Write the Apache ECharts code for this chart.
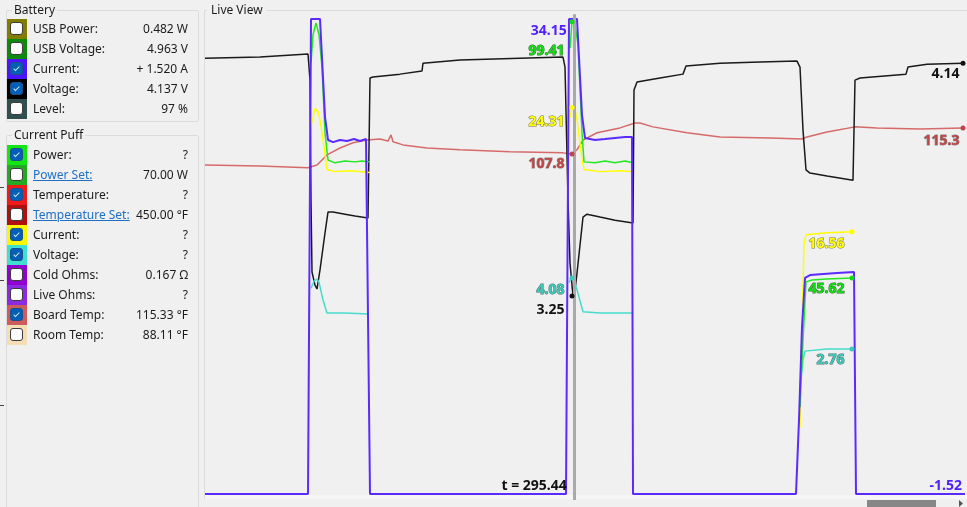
<!DOCTYPE html>
<html lang="en">
<head>
  <meta charset="UTF-8">
  <title>Live View</title>
  <script src="https://cdn.jsdelivr.net/npm/echarts@6/dist/echarts.min.js"></script>
  <style>
    html, body { margin: 0; padding: 0; background: #f0f0f0; }
    body { width: 967px; height: 507px; position: relative; overflow: hidden;
           font-family: "Segoe UI", "Noto Sans", sans-serif; font-size: 12px; color: #1b1b1b; }
    #chart { position: absolute; left: 0; top: 0; width: 967px; height: 507px; }
    .box { position: absolute; left: 6px; width: 191px; border: 1px solid #dcdcdc; border-radius: 2px; }
    .cap { position: absolute; left: 5px; top: -9px; background: #f0f0f0; padding: 0 2px; line-height: 16px; }
    .row { position: absolute; left: 0; width: 181px; height: 20px; }
    .sw { position: absolute; left: 0; top: 0; width: 20px; height: 20px; }
    .cb { position: absolute; left: 3px; top: 3px; width: 11px; height: 11px; border: 1px solid #3c3c3c;
          border-radius: 3px; background: #fbfbfb; }
    .cb.on { background: #005fb8; border-color: #1d4f8a; }
    .cb.on:after { content: ''; position: absolute; left: 4px; top: 2px; width: 2px; height: 5px;
                   border: solid #cfe3f7; border-width: 0 1px 1px 0; transform: rotate(45deg); }
    .lab { position: absolute; left: 26px; top: 0; line-height: 20px; white-space: nowrap; }
    .val { position: absolute; right: 0; top: 0; line-height: 20px; white-space: nowrap; }
    .link { color: #1f6fc5; text-decoration: underline; }
    .tick { position: absolute; left: 0; width: 4px; height: 1px; background: #444; }
  </style>
</head>
<body>
<div id="chart"></div>

<div class="box" id="battery" style="top:10px; height:110px;"><span class="cap">Battery</span></div>
<div class="box" id="puff" style="top:135px; height:380px;"><span class="cap">Current Puff</span></div>
<div class="tick" style="top:187px;"></div>
<div class="tick" style="top:280px;"></div>
<div class="tick" style="top:405px;"></div>

<script>
  // left panel readouts
  var batteryLabels = ['USB Power:', 'USB Voltage:', 'Current:', 'Voltage:', 'Level:'];
  var batteryValues = ['0.482 W', '4.963 V', '+ 1.520 A', '4.137 V', '97 %'];
  var batteryChecked = [false, false, true, true, false];
  var puffLabels = ['Power:', 'Power Set:', 'Temperature:', 'Temperature Set:', 'Current:',
                    'Voltage:', 'Cold Ohms:', 'Live Ohms:', 'Board Temp:', 'Room Temp:'];
  var puffValues = ['?', '70.00 W', '?', '450.00 °F', '?', '?', '0.167 Ω', '?', '115.33 °F', '88.11 °F'];
  var puffChecked = [true, false, true, false, true, true, false, false, true, false];

  // live view traces, [time s, value]
  var battCurrent = [
    [277.00, -1.52], [282.15, -1.52], [282.30, 34.15], [282.75, 34.15], [283.00, 26.8], [283.15, 25.06],
    [283.40, 24.9], [283.75, 25.06], [284.10, 24.98], [284.45, 25.13], [284.75, 24.98], [285.05, 25.13],
    [285.15, 25.13], [285.25, -1.52], [295.05, -1.52], [295.20, 34.15], [295.60, 34.15], [295.85, 26.93],
    [296.00, 25.21], [296.50, 25.06], [297.00, 25.13], [297.50, 25.21], [298.00, 25.28], [298.35, 25.28],
    [298.40, -1.52], [306.55, -1.52], [306.70, 4.04], [306.85, 11.02], [307.00, 14.7], [307.25, 14.92],
    [308.60, 15.07], [309.45, 15.15], [309.55, -1.52], [315.00, -1.52]
  ];
  var battVoltage = [
    [277.00, 4.159], [279.75, 4.163], [282.15, 4.175], [282.25, 4.075], [282.30, 3.617], [282.35, 3.342],
    [282.50, 3.292], [282.60, 3.277], [282.75, 3.35], [283.00, 3.491], [283.15, 3.571], [283.40, 3.571],
    [284.00, 3.563], [284.50, 3.556], [285.15, 3.548], [285.25, 4.083], [285.40, 4.087], [286.75, 4.098],
    [287.85, 4.110], [287.90, 4.14], [289.75, 4.152], [292.75, 4.159], [294.90, 4.163], [295.00, 4.125],
    [295.15, 3.617], [295.25, 3.376], [295.40, 3.25], [295.50, 3.273], [295.60, 3.338], [295.90, 3.552],
    [296.10, 3.563], [296.75, 3.552], [297.50, 3.54], [298.40, 3.529], [298.45, 4.037], [298.60, 4.068],
    [299.75, 4.083], [300.90, 4.098], [301.05, 4.129], [302.75, 4.14], [304.75, 4.144], [306.60, 4.148],
    [306.75, 4.125], [306.90, 3.884], [307.05, 3.732], [307.25, 3.72], [308.10, 3.709], [309.40, 3.693],
    [309.50, 4.075], [309.75, 4.083], [312.05, 4.098], [312.15, 4.125], [313.10, 4.136], [314.90, 4.14]
  ];
  var puffPower = [
    [282.30, 90.8], [282.40, 96.7], [282.55, 99.2], [282.70, 96.7], [282.85, 89.9], [283.00, 76.1],
    [283.15, 70.4], [283.50, 69.8], [284.00, 70.2], [284.50, 70.0], [284.85, 70.2], [285.25, 70.0],
    [285.30, '-'],
    [295.25, 93.9], [295.35, 99.41], [295.50, 98.8], [295.65, 94.6], [295.85, 76.1], [295.95, 70.0],
    [296.50, 69.8], [297.00, 70.2], [297.50, 69.8], [298.00, 70.2], [298.40, 69.8],
    [298.45, '-'],
    [306.75, 18.5], [306.90, 32.6], [307.05, 44.8], [307.35, 45.2], [308.10, 45.4], [309.35, 45.62]
  ];
  var puffCurrent = [
    [282.30, 23.1], [282.50, 24.25], [282.65, 24.06], [282.75, 23.56], [282.95, 21.87], [283.10, 20.44],
    [283.50, 20.31], [284.25, 20.37], [285.25, 20.25],
    [285.30, '-'],
    [295.25, 23.69], [295.35, 24.31], [295.50, 24.19], [295.60, 23.56], [295.85, 21.06], [295.95, 20.44],
    [296.75, 20.31], [297.75, 20.37], [298.40, 20.31],
    [298.45, '-'],
    [306.75, 4.31], [306.85, 10.44], [306.95, 15.75], [307.05, 16.37], [308.10, 16.5], [309.35, 16.56]
  ];
  var puffVoltage = [
    [282.30, 3.89], [282.45, 4.02], [282.60, 4.06], [282.70, 4.00], [282.90, 3.67], [283.10, 3.43],
    [284.00, 3.43], [285.15, 3.41],
    [285.30, '-'],
    [295.20, 3.99], [295.30, 4.08], [295.45, 4.04], [295.60, 3.86], [295.90, 3.45], [296.75, 3.43],
    [298.40, 3.43],
    [298.45, '-'],
    [306.75, 2.05], [306.90, 2.56], [307.00, 2.72], [308.10, 2.76], [309.35, 2.76]
  ];
  var boardTemp = [
    [277.00, 104.6], [279.75, 104.3], [282.15, 103.8], [282.60, 104.6], [283.10, 107.5], [283.75, 109.5],
    [284.40, 111.0], [285.10, 111.8], [285.75, 112.1], [286.15, 111.5], [286.30, 113.3], [286.40, 111.3],
    [286.90, 110.4], [288.10, 109.5], [289.75, 109.0], [292.25, 108.4], [294.90, 108.1], [295.35, 107.8],
    [295.60, 109.0], [295.90, 111.8], [296.60, 113.9], [297.75, 115.3], [298.50, 116.7], [298.75, 116.7],
    [299.40, 115.6], [301.10, 113.9], [302.75, 112.7], [305.25, 112.4], [306.85, 112.1], [307.10, 112.7],
    [308.10, 114.1], [309.50, 115.6], [310.60, 115.3], [312.75, 115.0], [314.90, 115.3]
  ];

  // cursor readout and last values
  var cursorT = 295.44;
  var cursorDotT = 295.35;
  var cursorCurrent = 34.15, cursorPower = 99.41, cursorPuffCurrent = 24.31;
  var cursorTemp = 107.8, cursorPuffVoltage = 4.08, cursorVoltage = 3.25;
  var lastT = 314.9, lastPuffT = 309.35;
  var lastVoltage = 4.14, lastTemp = 115.3, lastCurrent = -1.52;
  var lastPuffCurrent = 16.56, lastPower = 45.62, lastPuffVoltage = 2.76;

  // ---------- panel ----------
  var batterySwatch = ['#827c00', '#0b8a0b', '#4a14ff', '#000000', '#2f4f4f'];
  var puffSwatch = ['#14e614', '#22ab22', '#ef1a1a', '#b21010', '#f8f800', '#40e0d0',
                    '#9000d0', '#8a2be2', '#cd5c5c', '#f5deb3'];
  var puffLink = [false, true, false, true, false, false, false, false, false, false];

  function fillBox(id, labels, values, checked, colors, links, top0) {
    var box = document.getElementById(id);
    for (var i = 0; i < labels.length; i++) {
      var r = document.createElement('div');
      r.className = 'row';
      r.style.top = (top0 + i * 20) + 'px';
      r.innerHTML = '<div class="sw" style="background:' + colors[i] + '"><div class="cb' + (checked[i] ? ' on' : '') + '"></div></div>' +
        '<span class="lab' + (links && links[i] ? ' link' : '') + '">' + labels[i] + '</span>' +
        '<span class="val">' + values[i] + '</span>';
      box.appendChild(r);
    }
  }
  fillBox('battery', batteryLabels, batteryValues, batteryChecked, batterySwatch, null, 8);
  fillBox('puff', puffLabels, puffValues, puffChecked, puffSwatch, puffLink, 9);

  // ---------- chart ----------
  var chart = echarts.init(document.getElementById('chart'));
  var FONT = '"Segoe UI","Noto Sans",sans-serif';

  function tag(t, v, text, color, dist, dy, outline, size) {
    return {
      coord: [t, v], value: v,
      symbol: 'circle', symbolSize: size === undefined ? 5 : size,
      itemStyle: { color: color },
      label: {
        show: true, position: 'left', distance: dist, offset: [0, dy],
        formatter: text, color: color, fontFamily: FONT, fontWeight: 'bold', fontSize: 14,
        textBorderColor: outline || 'transparent', textBorderWidth: outline ? 1 : 0
      }
    };
  }

  function line(data, axis, color, width, marks) {
    return {
      type: 'line', data: data, yAxisIndex: axis, showSymbol: false, symbol: 'none',
      connectNulls: false, silent: true, animation: false,
      lineStyle: { color: color, width: width }, itemStyle: { color: color },
      markPoint: { silent: true, animation: false, data: marks || [] }
    };
  }

  var yAxes = [
    [-1.97, 34.82],   // battery current
    [-1.02, 101.9],   // puff power
    [-0.19, 30.4],    // puff current
    [-0.047, 9.06],   // puff voltage
    [2.471, 4.343],   // battery voltage
    [8.0, 149.3]      // board temp
  ].map(function (r) { return { type: 'value', min: r[0], max: r[1], show: false }; });

  var blue = line(battCurrent, 0, '#5a2aff', 2, [
    tag(cursorT, cursorCurrent, cursorCurrent.toFixed(2), '#5020ff', 7, 12, null, 0),
    tag(lastT + 0.05, lastCurrent, lastCurrent.toFixed(2), '#5020ff', 2, -8, null, 0),
    tag(cursorT, lastCurrent, 't = ' + cursorT.toFixed(2), '#111111', 7, -8, null, 0)
  ]);
  blue.markLine = {
    silent: true, animation: false, symbol: ['none', 'none'], label: { show: false },
    lineStyle: { color: '#a9a9a9', width: 3, type: 'solid' },
    data: [[{ coord: [cursorT, 34.5] }, { coord: [cursorT, -1.97] }]]
  };

  chart.setOption({
    backgroundColor: 'transparent',
    animation: false,
    grid: { left: 205, right: 2, top: 10, bottom: 7 },
    xAxis: { type: 'value', min: 277, max: 315, show: false },
    yAxis: yAxes,
    graphic: [
      { type: 'rect', shape: { x: 205, y: 495, width: 762, height: 4 }, style: { fill: '#f6f6f6' }, z: -10 },
      { type: 'line', shape: { x1: 204.5, y1: 10.5, x2: 967, y2: 10.5 }, style: { stroke: '#dcdcdc', lineWidth: 1 }, z: -5 },
      { type: 'line', shape: { x1: 204.5, y1: 10.5, x2: 204.5, y2: 499 }, style: { stroke: '#dcdcdc', lineWidth: 1 }, z: -5 },
      { type: 'rect', shape: { x: 207, y: 3, width: 60, height: 15 }, style: { fill: '#f0f0f0' }, z: 50 },
      { type: 'text', x: 211, y: 11, z: 51,
        style: { text: 'Live View', fontFamily: FONT, fontSize: 12, fill: '#1b1b1b', verticalAlign: 'middle' } },
      { type: 'rect', shape: { x: 867, y: 500, width: 69, height: 7 }, style: { fill: '#878787' }, z: 50 },
      { type: 'polygon', shape: { points: [[959, 500], [963, 503.5], [959, 507]] }, style: { fill: '#555' }, z: 50 }
    ],
    series: [
      line(boardTemp, 5, '#d66a6a', 1.5, [
        tag(cursorDotT, cursorTemp, cursorTemp.toFixed(1), '#c04646', 5, 10, '#8a8a8a'),
        tag(lastT, lastTemp, lastTemp.toFixed(1), '#c04646', 1, 13, '#8a8a8a')
      ]),
      line(battVoltage, 4, '#1a1a1a', 1.5, [
        tag(cursorDotT, cursorVoltage, cursorVoltage.toFixed(2), '#111111', 5, 14),
        tag(lastT, lastVoltage, lastVoltage.toFixed(2), '#111111', 1, 11)
      ]),
      line(puffVoltage, 3, '#46dccb', 1.5, [
        tag(cursorDotT, cursorPuffVoltage, cursorPuffVoltage.toFixed(2), '#3cc9b9', 5, 12, '#4f6f6b'),
        tag(lastPuffT, lastPuffVoltage, lastPuffVoltage.toFixed(2), '#3cc9b9', 5, 11, '#4f6f6b')
      ]),
      line(puffCurrent, 2, '#ffff00', 1.5, [
        tag(cursorDotT, cursorPuffCurrent, cursorPuffCurrent.toFixed(2), '#ffff00', 5, 14, '#77773a'),
        tag(lastPuffT, lastPuffCurrent, lastPuffCurrent.toFixed(2), '#ffff00', 5, 12, '#77773a')
      ]),
      line(puffPower, 1, '#22e822', 1.5, [
        tag(cursorDotT, cursorPower, cursorPower.toFixed(2), '#10dd10', 5, 29, '#3a6e3a'),
        tag(lastPuffT, lastPower, lastPower.toFixed(2), '#10dd10', 5, 11, '#3a6e3a')
      ]),
      blue
    ]
  });
</script>
</body>
</html>
